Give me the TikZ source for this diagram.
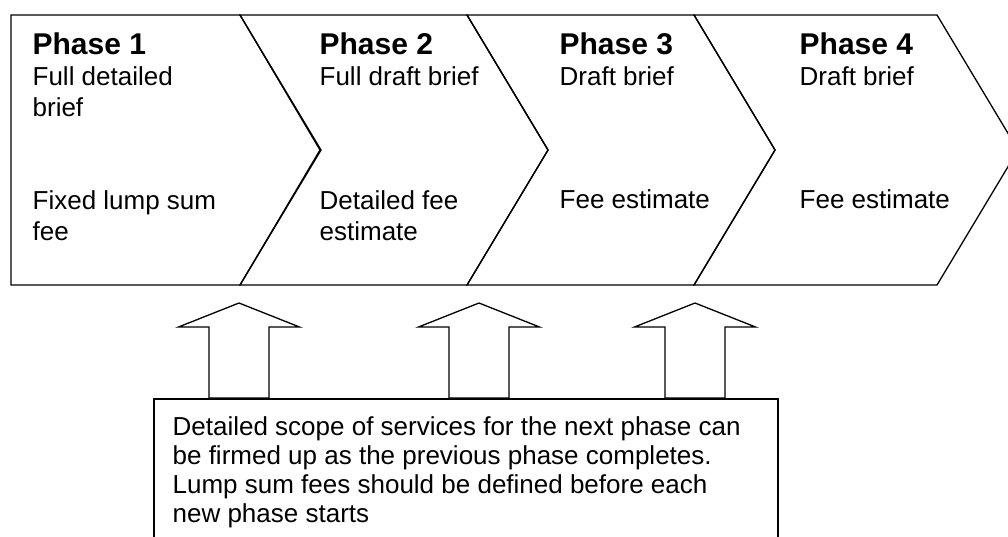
\documentclass[tikz,border=0pt]{standalone}
\usepackage{fontspec}
\setmainfont{Liberation Sans}

\begin{document}
\begin{tikzpicture}[
  x=1pt, y=-1pt, line width=1.3pt,
  uparrow/.pic={
    \draw (0,0) -- (60.5,24) -- (30,24) -- (30,95)
      -- (-30,95) -- (-30,24) -- (-60.5,24) -- cycle;
  },
  title/.style={anchor=base west, inner sep=0pt,
    font=\fontsize{30}{36}\selectfont\bfseries},
  desc/.style={anchor=base west, inner sep=0pt, align=left,
    font=\fontsize{26}{31}\selectfont},
]
  \useasboundingbox (0,0) rectangle (1008,536);
  \clip (0,0) rectangle (1008,536);

  % phases
  \draw (11,15) -- (240,15) -- (320,150) -- (240,285) -- (11,285) -- cycle;
  \foreach \a/\b in {240/467, 467/694, 694/937}
    \draw (\a,15) -- (\b,15) -- ++(81,135) -- ++(-81,135)
      -- (\a,285) -- ++(81,-135) -- cycle;

  \node[title] (ph1) at (32,54) {Phase 1};
  \node[title] (ph2) at (319,54) {Phase 2};
  \node[title] (ph3) at (559,54) {Phase 3};
  \node[title] (ph4) at (799,54) {Phase 4};

  % multi-line nodes sit on their last baseline
  \node[desc] (brief1) at (32,116) {Full detailed\\brief};
  \node[desc] (brief2) at (319,85) {Full draft brief};
  \node[desc] (brief3) at (559,85) {Draft brief};
  \node[desc] (brief4) at (799,85) {Draft brief};

  \node[desc] (fee1) at (32,240) {Fixed lump sum\\fee};
  \node[desc] (fee2) at (319,240) {Detailed fee\\estimate};
  \node[desc] (fee3) at (559,208) {Fee estimate};
  \node[desc] (fee4) at (799,208) {Fee estimate};

  % note and arrows
  \pic at (239,303) {uparrow};
  \pic at (479,303) {uparrow};
  \pic at (695,303) {uparrow};

  \draw (154,399) rectangle (778,545);
  \node[desc, font=\fontsize{26}{29}\selectfont] (note) at (172,522)
    {Detailed scope of services for the next phase can\\
     be firmed up as the previous phase completes.\\
     Lump sum fees should be defined before each\\
     new phase starts};
\end{tikzpicture}
\end{document}
